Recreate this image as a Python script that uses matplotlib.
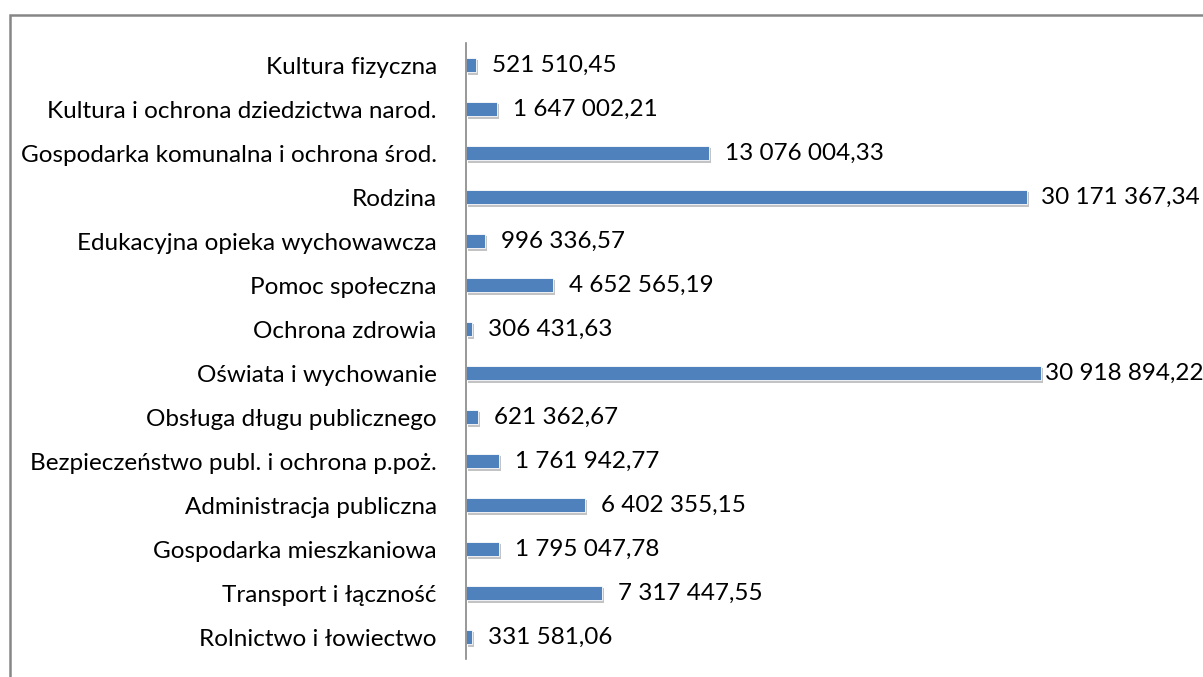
import matplotlib
matplotlib.use("Agg")
import matplotlib.pyplot as plt
import matplotlib.patheffects as pe
from matplotlib.patches import Rectangle

plt.rcParams['font.family'] = ['Lato', 'DejaVu Sans']

# data, bottom to top as drawn
categories = [
    "Rolnictwo i łowiectwo",
    "Transport i łączność",
    "Gospodarka mieszkaniowa",
    "Administracja publiczna",
    "Bezpieczeństwo publ. i ochrona p.poż.",
    "Obsługa długu publicznego",
    "Oświata i wychowanie",
    "Ochrona zdrowia",
    "Pomoc społeczna",
    "Edukacyjna opieka wychowawcza",
    "Rodzina",
    "Gospodarka komunalna i ochrona środ.",
    "Kultura i ochrona dziedzictwa narod.",
    "Kultura fizyczna",
]
values = [
    331581.06, 7317447.55, 1795047.78, 6402355.15, 1761942.77, 621362.67,
    30918894.22, 306431.63, 4652565.19, 996336.57, 30171367.34,
    13076004.33, 1647002.21, 521510.45,
]


def fmt_pl(v):
    s = f"{v:,.2f}"
    return s.replace(",", " ").replace(".", ",")


W, H = 1203, 677
fig = plt.figure(figsize=(W / 100, H / 100), dpi=100)

# outer frame (cut off at right and bottom like in the source)
fig.patches.append(Rectangle((9.5 / W, -0.05), 1.1, 1 - 14.5 / H + 0.05,
                             transform=fig.transFigure, fill=False,
                             edgecolor='#868686', linewidth=1.8))

left, right = 466 / W, 1.0
bottom, top = 1 - 659 / H, 1 - 43 / H
ax = fig.add_axes([left, bottom, right - left, top - bottom])

px_per_unit = 18.6e-6  # pixels per zloty
xmax = (right - left) * W / px_per_unit

y = list(range(len(categories)))
bars = ax.barh(y, values, height=0.34, color='#4F81BD', edgecolor='white',
               linewidth=0.6)
for b in bars:
    b.set_path_effects([pe.SimplePatchShadow(offset=(1.5, -1.5), alpha=0.35,
                                             shadow_rgbFace='#555555'),
                        pe.Normal()])

gap = 11.5
labels = []
for yi, v in zip(y, values):
    t = ax.annotate(fmt_pl(v), xy=(v, yi), xytext=(gap, 0),
                    textcoords='offset points', va='center', ha='left',
                    fontsize=17.5, color='black', annotation_clip=False)
    labels.append(t)

ax.set_xlim(0, xmax)
ax.set_ylim(-0.5, len(categories) - 0.5)
ax.set_yticks(y)
ax.set_yticklabels(categories, fontsize=17.5)
ax.tick_params(axis='y', length=0, pad=21)
ax.set_xticks([])
for side in ['top', 'right', 'bottom']:
    ax.spines[side].set_visible(False)
ax.spines['left'].set_color('#868686')
ax.spines['left'].set_linewidth(1.2)
ax.patch.set_alpha(0)

# pull labels that would run past the right edge back inside
fig.canvas.draw()
r = fig.canvas.get_renderer()
for t in labels:
    bb = t.get_window_extent(r)
    over = bb.x1 - (W - 3)
    if over > 0:
        t.xyann = (max(gap - over * 72 / 100, 3), 0)

fig.savefig("out.png", dpi=100)
